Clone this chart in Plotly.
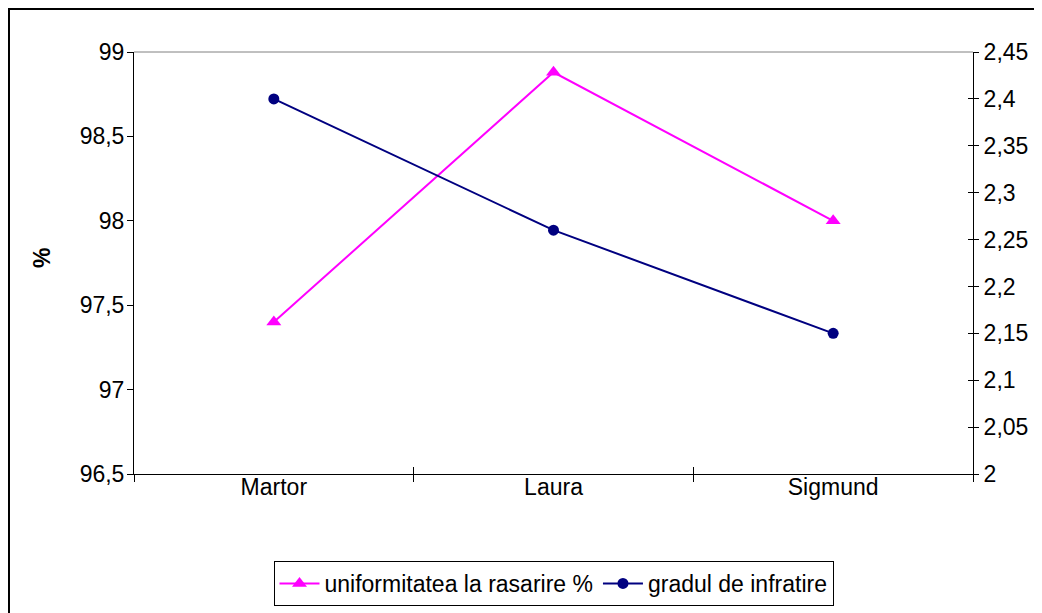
import plotly.graph_objects as go

categories = ["Martor", "Laura", "Sigmund"]
uniformitate = [97.4, 98.88, 98.0]
infratire = [2.40, 2.26, 2.15]
name_uniformitate = "uniformitatea la rasarire %"
name_infratire = "gradul de infratire"

FONT = "Liberation Sans, Arial, sans-serif"
PINK = "#FF00FF"
NAVY = "#000080"

fig = go.Figure()
fig.add_trace(go.Scatter(
    x=categories, y=uniformitate, name=name_uniformitate,
    mode="lines+markers", line=dict(color=PINK, width=2),
    marker=dict(symbol="triangle-up", size=13, color=PINK),
    xaxis="x", yaxis="y"))
fig.add_trace(go.Scatter(
    x=categories, y=infratire, name=name_infratire,
    mode="lines+markers", line=dict(color=NAVY, width=2),
    marker=dict(symbol="circle", size=11, color=NAVY),
    xaxis="x", yaxis="y2"))
# invisible helper trace for the inner half of crossing ticks
fig.add_trace(go.Scatter(
    x=categories, y=infratire, mode="lines", opacity=0,
    showlegend=False, hoverinfo="skip", xaxis="x3", yaxis="y3"))

FS = 23
tickfont = dict(family=FONT, size=FS, color="black")

fig.update_layout(
    width=1034, height=605,
    margin=dict(l=126, r=69, t=44, b=139, autoexpand=False),
    paper_bgcolor="white", plot_bgcolor="white",
    separators=",.",
    font=dict(family=FONT, size=FS, color="black"),
    showlegend=True,
    legend=dict(orientation="h", xref="paper", x=0.5, xanchor="center",
                yref="container", y=0.086, yanchor="top",
                bordercolor="black", borderwidth=1, bgcolor="white",
                font=dict(family=FONT, size=FS, color="black"),
                itemwidth=40, tracegroupgap=0),
    xaxis=dict(type="category", categoryorder="array", categoryarray=categories,
               range=[-0.5, 2.5], tickson="boundaries", ticks="outside", ticklen=7,
               tickcolor="black", showline=True, linecolor="black", linewidth=1,
               showgrid=False, zeroline=False, tickfont=tickfont, anchor="y",
               ticklabelstandoff=-8, automargin=False),
    xaxis3=dict(type="category", categoryorder="array", categoryarray=categories,
                range=[-0.5, 2.5], tickson="boundaries", ticks="inside", ticklen=7,
                tickcolor="black", showline=False, showgrid=False, zeroline=False,
                showticklabels=False, overlaying="x", anchor="y", side="bottom"),
    yaxis=dict(range=[96.5, 99], dtick=0.5, tick0=96.5, ticks="outside", ticklen=6,
               tickcolor="black", showline=True, linecolor="black", linewidth=1,
               showgrid=False, zeroline=False, tickfont=tickfont, automargin=False,
               ticklabelstandoff=-2),
    yaxis2=dict(range=[2, 2.45], dtick=0.05, tick0=2, ticks="outside", ticklen=5,
                tickcolor="black", showline=True, linecolor="black", linewidth=1,
                showgrid=False, zeroline=False, tickfont=tickfont,
                overlaying="y", side="right", anchor="x", automargin=False),
    yaxis3=dict(range=[2, 2.45], dtick=0.05, tick0=2, ticks="inside", ticklen=5,
                tickcolor="black", showline=False, showgrid=False, zeroline=False,
                showticklabels=False, overlaying="y", side="right", anchor="x3"),
    annotations=[dict(text="<b>%</b>", textangle=-90, xref="paper", yref="paper",
                      x=-0.1096, y=0.512, xanchor="center", yanchor="middle",
                      showarrow=False,
                      font=dict(family=FONT, size=FS, color="black"))],
    shapes=[
        dict(type="line", xref="paper", yref="paper", x0=0, x1=1, y0=1, y1=1,
             line=dict(color="#808080", width=1)),
        dict(type="rect", xref="paper", yref="paper", x0=-0.1490, x1=1.09,
             y0=-0.36, y1=1.1019, line=dict(color="black", width=2),
             fillcolor="rgba(0,0,0,0)", layer="below"),
    ],
)

fig.write_html("out.html")
